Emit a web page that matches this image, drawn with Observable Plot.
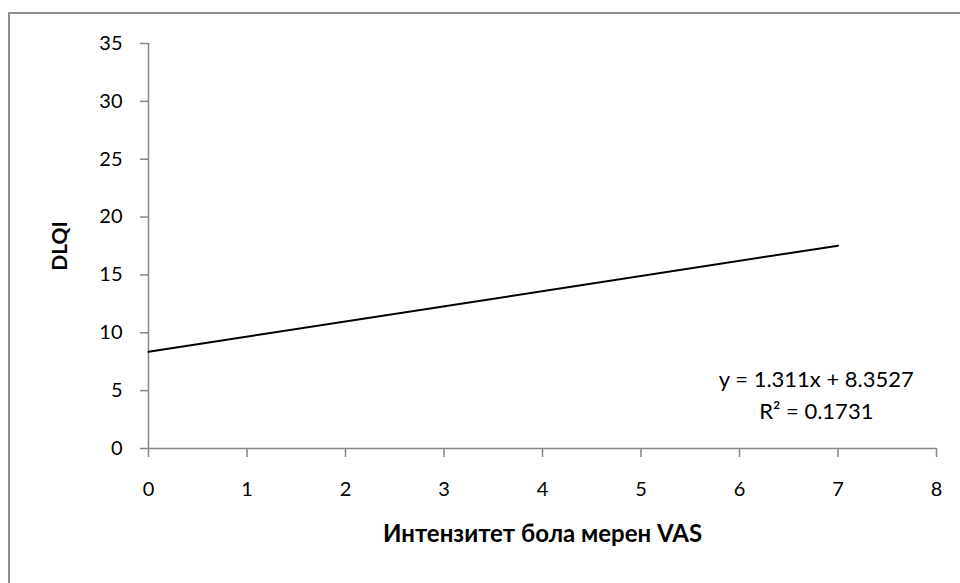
<!DOCTYPE html>
<html>
<head>
<meta charset="utf-8">
<script src="https://cdn.jsdelivr.net/npm/d3@7"></script>
<script src="https://cdn.jsdelivr.net/npm/@observablehq/plot@0.6"></script>
<style>
  html, body { margin: 0; padding: 0; background: #fff; overflow: hidden; }
  #wrap { position: relative; width: 960px; height: 583px; overflow: hidden; }
  #border { position: absolute; left: 8px; top: 12px; width: 1000px; height: 1000px; border: 2px solid #8e8e8e; box-sizing: border-box; }
  #chart { position: absolute; left: 0; top: 0; }
</style>
</head>
<body>
<div id="wrap"><div id="border"></div><div id="chart"></div></div>
<script>
// Trendline endpoints
const trendX = [0, 7];
const trendY = [8.3527, 17.53];
const xTicks = [0, 1, 2, 3, 4, 5, 6, 7, 8];
const yTicks = [0, 5, 10, 15, 20, 25, 30, 35];
const xTitle = "Интензитет бола мерен VAS";
const yTitle = "DLQI";
const equationLines = ["y = 1.311x + 8.3527", "R² = 0.1731"];
const equationAnchor = { x: 6.78, y: [5.9, 3.2] };

const lineData = trendX.map((x, i) => ({ x, y: trendY[i] }));
const eqData = equationLines.map((t, i) => ({ t, x: equationAnchor.x, y: equationAnchor.y[i] }));

const font = "Lato, 'Open Sans', sans-serif";
const axisGray = "#868686";

const chart = Plot.plot({
  width: 960,
  height: 583,
  marginLeft: 148,
  marginRight: 24,
  marginTop: 43,
  marginBottom: 135,
  style: { fontFamily: font, fontSize: "20px", background: "transparent", color: "#000" },
  x: { domain: [0, 8], axis: null },
  y: { domain: [0, 35], axis: null },
  marks: [
    Plot.ruleX([0], { y1: 0, y2: 35, stroke: axisGray, strokeWidth: 1.5 }),
    Plot.ruleY([0], { x1: 0, x2: 8, stroke: axisGray, strokeWidth: 1.5 }),
    Plot.axisY({ ticks: yTicks, tickSize: 8, tickPadding: 18, stroke: axisGray, fill: "#000", label: null, fontSize: 20, strokeWidth: 1.5 }),
    Plot.axisX({ ticks: xTicks, tickSize: 9, tickPadding: 24, stroke: axisGray, fill: "#000", label: null, fontSize: 20, strokeWidth: 1.5 }),
    Plot.line(lineData, { x: "x", y: "y", stroke: "#000", strokeWidth: 2 }),
    Plot.text(eqData, { x: "x", y: "y", text: "t", fontSize: 22, fill: "#000", textAnchor: "middle" }),
    Plot.text([xTitle], { frameAnchor: "bottom", dy: 93, text: d => d, fontSize: 24, fontWeight: "bold", fill: "#000" }),
    Plot.text([yTitle], { frameAnchor: "left", dx: -88, rotate: -90, textAnchor: "middle", text: d => d, fontSize: 21, fontWeight: "bold", fill: "#000" })
  ]
});
document.getElementById("chart").appendChild(chart);
</script>
</body>
</html>
